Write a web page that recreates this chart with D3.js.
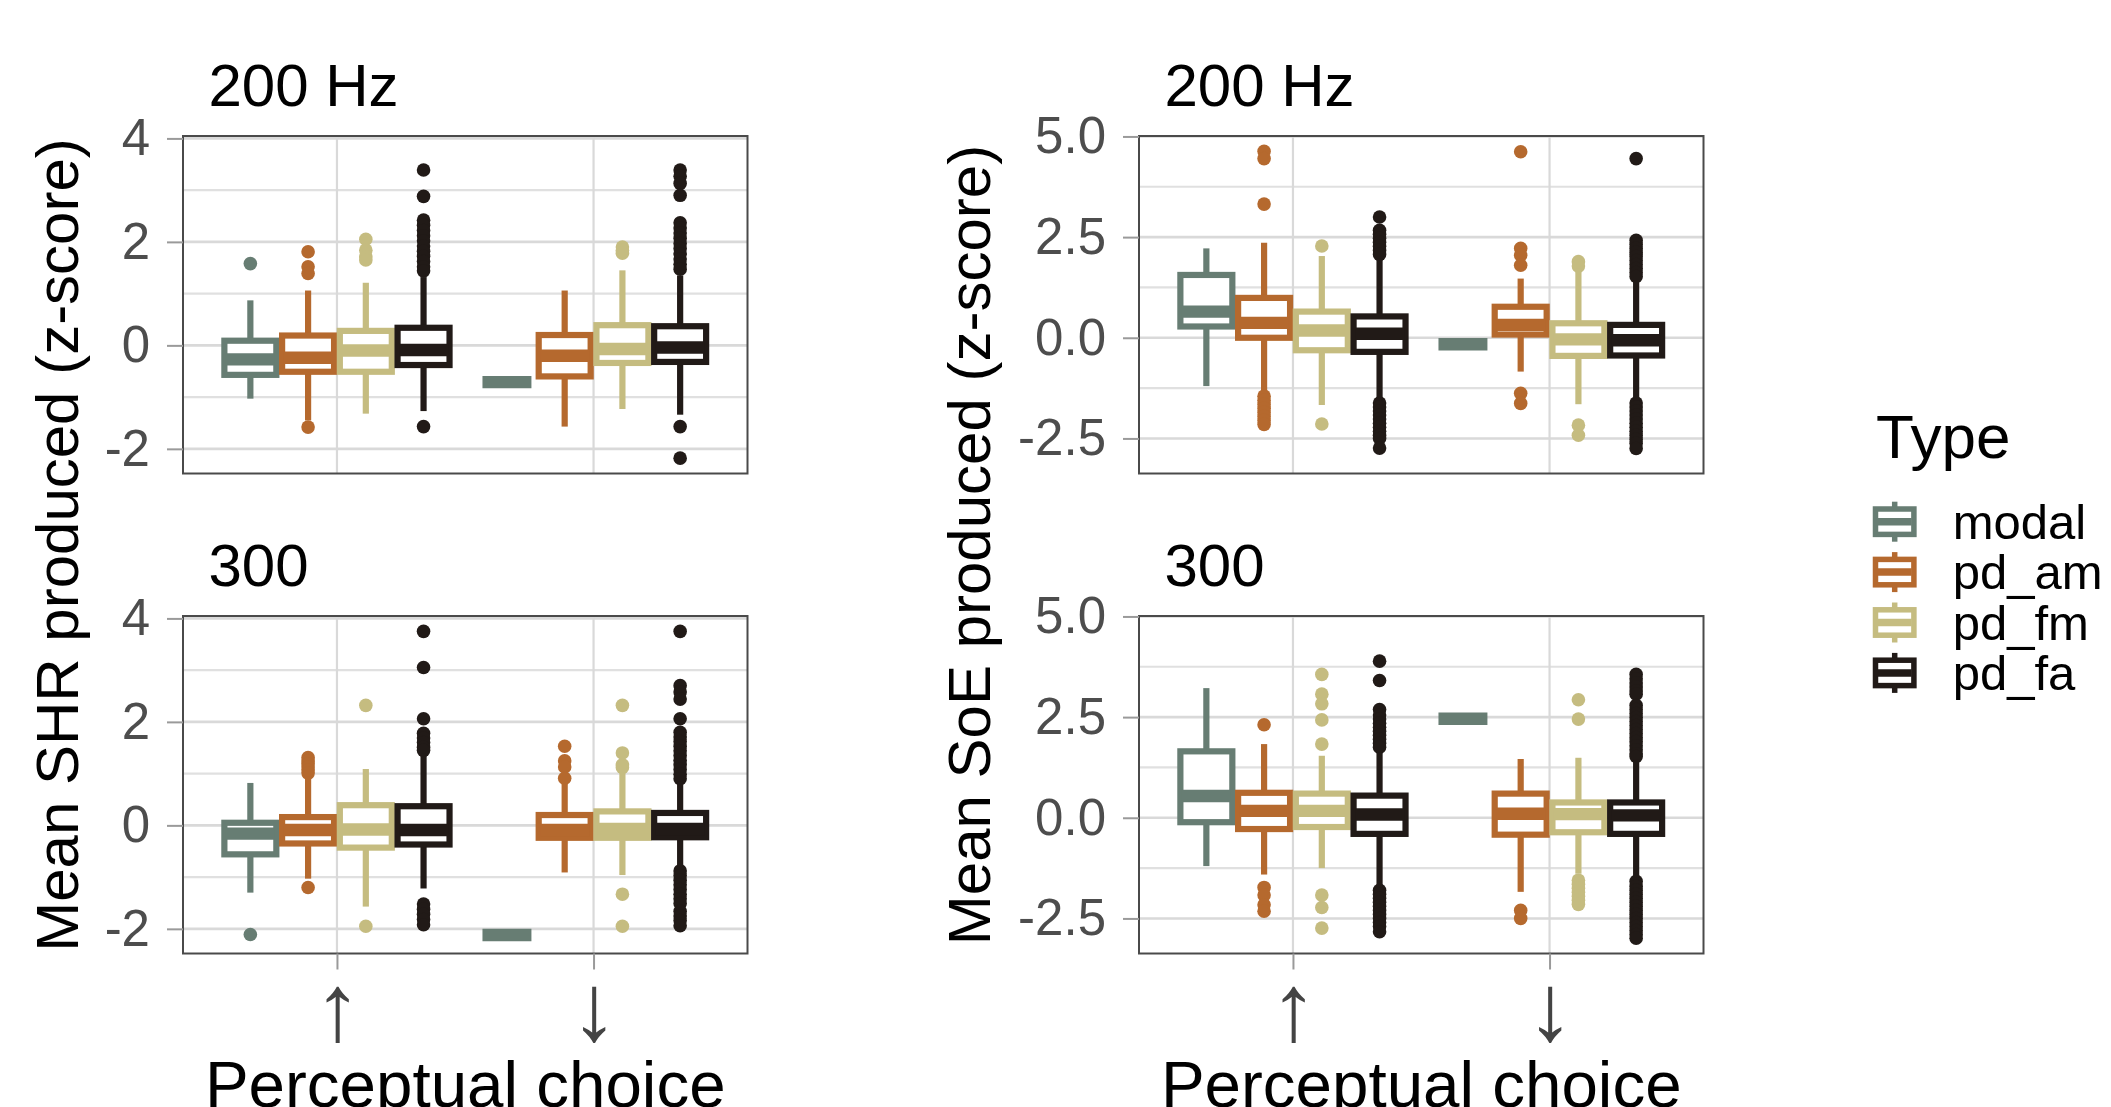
<!DOCTYPE html>
<html>
<head>
<meta charset="utf-8">
<script src="https://cdn.jsdelivr.net/npm/d3@7"></script>
<style>
  body { margin: 0; background: #fff; }
  svg { display: block; font-family: "Liberation Sans", Arial, sans-serif; }
</style>
</head>
<body>
<div id="vis"></div>
<script>
const width = 2111;
const height = 1107;

// categories
const types = ["modal", "pd_am", "pd_fm", "pd_fa"];
const typeColors = ["#677D73", "#B5692E", "#C5BC80", "#211A17"];
const choices = ["↑", "↓"];
const rowLabels = ["200 Hz", "300"];
const measureTitles = ["Mean SHR produced (z-score)", "Mean SoE produced (z-score)"];
const shrTicks = [-2, 0, 2, 4];
const soeTicks = [-2.5, 0, 2.5, 5];

// box stats: [choice, type, lower whisker, Q1, median, Q3, upper whisker]
const shr200Boxes = [
  ["↑", "modal", -1.03, -0.57, -0.27, 0.09, 0.87],
  ["↑", "pd_am", -1.45, -0.51, -0.24, 0.19, 1.06],
  ["↑", "pd_fm", -1.32, -0.51, -0.10, 0.28, 1.21],
  ["↑", "pd_fa", -1.27, -0.38, -0.09, 0.34, 1.32],
  ["↓", "modal", -0.71, -0.71, -0.71, -0.71, -0.71],
  ["↓", "pd_am", -1.57, -0.60, -0.20, 0.20, 1.06],
  ["↓", "pd_fm", -1.23, -0.34, -0.07, 0.39, 1.45],
  ["↓", "pd_fa", -1.34, -0.32, -0.04, 0.37, 1.35]
];
const shr200Outliers = [
  ["↑", "modal", [1.58]],
  ["↑", "pd_am", [1.81, 1.52, 1.39, -1.58]],
  ["↑", "pd_fm", [2.05, 1.84, 1.71, 1.65]],
  ["↑", "pd_fa", [3.39, 2.88, 2.42, 2.32, 2.22, 2.12, 2.02, 1.92, 1.82, 1.72, 1.62, 1.52, 1.44, -1.57]],
  ["↓", "pd_fm", [1.90, 1.84, 1.78]],
  ["↓", "pd_fa", [3.39, 3.27, 3.13, 2.90, 2.37, 2.27, 2.17, 2.07, 1.97, 1.87, 1.77, 1.67, 1.57, 1.47, -1.57, -2.18]]
];

const shr300Boxes = [
  ["↑", "modal", -1.30, -0.56, -0.16, 0.05, 0.82],
  ["↑", "pd_am", -1.03, -0.35, -0.09, 0.16, 0.95],
  ["↑", "pd_fm", -1.57, -0.43, -0.08, 0.39, 1.09],
  ["↑", "pd_fa", -1.22, -0.37, -0.09, 0.37, 1.38],
  ["↓", "modal", -2.12, -2.12, -2.12, -2.12, -2.12],
  ["↓", "pd_am", -0.91, -0.24, -0.09, 0.20, 0.80],
  ["↓", "pd_fm", -0.96, -0.24, -0.07, 0.27, 1.04],
  ["↓", "pd_fa", -0.80, -0.23, -0.07, 0.24, 0.84]
];
const shr300Outliers = [
  ["↑", "modal", [-2.11]],
  ["↑", "pd_am", [1.31, 1.25, 1.19, 1.13, 1.07, 1.01, -1.20]],
  ["↑", "pd_fm", [2.32, -1.95]],
  ["↑", "pd_fa", [3.75, 3.05, 2.06, 1.78, 1.69, 1.60, 1.51, 1.45, -1.52, -1.62, -1.72, -1.82, -1.92]],
  ["↓", "pd_am", [1.53, 1.25, 1.13, 0.91]],
  ["↓", "pd_fm", [2.32, 1.40, 1.17, 1.12, -1.33, -1.95]],
  ["↓", "pd_fa", [3.75, 2.70, 2.58, 2.44, 2.06, 1.80, 1.71, 1.62, 1.53, 1.44, 1.35, 1.26, 1.17, 1.08, 0.99, 0.90,
                  -0.88, -0.97, -1.06, -1.15, -1.24, -1.33, -1.42, -1.51, -1.66, -1.75, -1.84, -1.94]]
];

const soe200Boxes = [
  ["↑", "modal", -1.20, 0.28, 0.65, 1.56, 2.22],
  ["↑", "pd_am", -1.38, 0.00, 0.37, 0.99, 2.36],
  ["↑", "pd_fm", -1.67, -0.31, 0.18, 0.65, 2.03],
  ["↑", "pd_fa", -1.55, -0.35, 0.10, 0.53, 1.97],
  ["↓", "modal", -0.16, -0.16, -0.16, -0.16, -0.16],
  ["↓", "pd_am", -0.84, 0.08, 0.32, 0.77, 1.47],
  ["↓", "pd_fm", -1.65, -0.45, -0.04, 0.36, 1.72],
  ["↓", "pd_fa", -1.55, -0.44, -0.06, 0.32, 1.43]
];
const soe200Outliers = [
  ["↑", "pd_am", [4.63, 4.45, 3.32, -1.45, -1.55, -1.65, -1.75, -1.85, -1.95, -2.05, -2.15]],
  ["↑", "pd_fm", [2.28, -2.14]],
  ["↑", "pd_fa", [3.00, 2.67, 2.57, 2.47, 2.37, 2.27, 2.17, 2.07,
                  -1.62, -1.72, -1.82, -1.92, -2.02, -2.12, -2.22, -2.32, -2.42, -2.50, -2.74]],
  ["↓", "pd_am", [4.62, 2.22, 2.05, 1.80, -1.38, -1.63]],
  ["↓", "pd_fm", [1.89, 1.78, -2.17, -2.42]],
  ["↓", "pd_fa", [4.45, 2.42, 2.32, 2.22, 2.12, 2.02, 1.92, 1.82, 1.72, 1.62, 1.52,
                  -1.62, -1.72, -1.82, -1.92, -2.02, -2.12, -2.22, -2.32, -2.42, -2.52, -2.62, -2.75]]
];

const soe300Boxes = [
  ["↑", "modal", -1.20, -0.11, 0.54, 1.65, 3.22],
  ["↑", "pd_am", -1.41, -0.28, 0.17, 0.62, 1.83],
  ["↑", "pd_fm", -1.25, -0.23, 0.17, 0.60, 1.54],
  ["↑", "pd_fa", -1.73, -0.40, 0.08, 0.55, 1.63],
  ["↓", "modal", 2.46, 2.46, 2.46, 2.46, 2.46],
  ["↓", "pd_am", -1.84, -0.42, 0.10, 0.60, 1.46],
  ["↓", "pd_fm", -1.39, -0.36, 0.09, 0.38, 1.49],
  ["↓", "pd_fa", -1.49, -0.40, 0.06, 0.38, 1.44]
];
const soe300Outliers = [
  ["↑", "pd_am", [2.31, -1.73, -1.92, -2.16, -2.32]],
  ["↑", "pd_fm", [3.56, 3.07, 2.83, 2.43, 1.83, -1.92, -2.23, -2.74]],
  ["↑", "pd_fa", [3.89, 3.41, 2.69, 2.55, 2.45, 2.35, 2.25, 2.15, 2.05, 1.95, 1.85, 1.75,
                  -1.80, -1.90, -2.00, -2.10, -2.20, -2.30, -2.40, -2.50, -2.60, -2.70, -2.83]],
  ["↓", "pd_am", [-2.30, -2.50]],
  ["↓", "pd_fm", [2.93, 2.45, -1.55, -1.65, -1.75, -1.85, -1.95, -2.05, -2.15]],
  ["↓", "pd_fa", [3.56, 3.45, 3.35, 3.25, 3.15, 3.07, 2.79, 2.69, 2.59, 2.49, 2.39, 2.29, 2.19, 2.09, 1.99, 1.89, 1.79, 1.69, 1.59, 1.52,
                  -1.58, -1.70, -1.80, -1.90, -2.00, -2.10, -2.20, -2.30, -2.40, -2.50, -2.60, -2.70, -2.80, -2.90, -2.99]]
];

// layout
const colX = [183, 1139];
const rowY = [136, 616];
const panelW = 564.5;
const panelH = 337.5;
const lw = 6.2;          // box line width
const fontFam = '"Liberation Sans", Arial, sans-serif';

const color = d3.scaleOrdinal().domain(types).range(typeColors);

// panels built from the arrays above
const columns = [
  { title: measureTitles[0], ticks: shrTicks, fmt: d => String(d), panels: [[shr200Boxes, shr200Outliers], [shr300Boxes, shr300Outliers]] },
  { title: measureTitles[1], ticks: soeTicks, fmt: d => d.toFixed(1), panels: [[soe200Boxes, soe200Outliers], [soe300Boxes, soe300Outliers]] }
];

const svg = d3.select("#vis").append("svg")
  .attr("width", width)
  .attr("height", height);

svg.append("rect").attr("width", width).attr("height", height).attr("fill", "#fff");

columns.forEach((col, c) => {
  // shared y range for both rows of this measure (+5% like ggplot)
  const allVals = [];
  col.panels.forEach(([boxes, outs]) => {
    boxes.forEach(b => allVals.push(b[2], b[6]));
    outs.forEach(o => allVals.push(...o[2]));
  });
  const [lo, hi] = d3.extent(allVals);
  const pad = (hi - lo) * 0.05;

  const x = d3.scalePoint()
    .domain(choices)
    .range([colX[c], colX[c] + panelW])
    .padding(0.6);
  const step = x.step();
  const dodge = d3.scaleBand()
    .domain(types)
    .range([-0.45 * step, 0.45 * step])
    .paddingInner(0.1)
    .paddingOuter(0.05);
  const bw = dodge.bandwidth();

  col.panels.forEach(([boxes, outs], r) => {
    const y = d3.scaleLinear()
      .domain([lo - pad, hi + pad])
      .range([rowY[r] + panelH, rowY[r]]);

    const g = svg.append("g");
    const x0 = colX[c], x1 = colX[c] + panelW;

    // grid
    const minor = d3.pairs(col.ticks).map(([a, b]) => (a + b) / 2);
    g.selectAll(".minor").data(minor).join("line")
      .attr("x1", x0).attr("x2", x1)
      .attr("y1", d => y(d)).attr("y2", d => y(d))
      .attr("stroke", "#E0E0E0").attr("stroke-width", 2.2);
    g.selectAll(".major").data(col.ticks).join("line")
      .attr("x1", x0).attr("x2", x1)
      .attr("y1", d => y(d)).attr("y2", d => y(d))
      .attr("stroke", "#D9D9D9").attr("stroke-width", 2.6);
    g.selectAll(".vgrid").data(choices).join("line")
      .attr("x1", d => x(d)).attr("x2", d => x(d))
      .attr("y1", rowY[r]).attr("y2", rowY[r] + panelH)
      .attr("stroke", "#D9D9D9").attr("stroke-width", 2.2);

    // boxes
    boxes.forEach(b => {
      const [ch, type, wLo, q1, med, q3, wHi] = b;
      const cx = x(ch) + dodge(type) + bw / 2;
      const col_ = color(type);
      const bg = g.append("g");

      const o = outs.find(d => d[0] === ch && d[1] === type);
      if (o) {
        bg.selectAll("circle").data(o[2]).join("circle")
          .attr("cx", cx).attr("cy", d => y(d)).attr("r", 6.8)
          .attr("fill", col_);
      }
      if (q3 > q1) {
        bg.append("line")
          .attr("x1", cx).attr("x2", cx)
          .attr("y1", y(wHi)).attr("y2", y(q3))
          .attr("stroke", col_).attr("stroke-width", lw);
        bg.append("line")
          .attr("x1", cx).attr("x2", cx)
          .attr("y1", y(q1)).attr("y2", y(wLo))
          .attr("stroke", col_).attr("stroke-width", lw);
        bg.append("rect")
          .attr("x", cx - bw / 2).attr("width", bw)
          .attr("y", y(q3)).attr("height", y(q1) - y(q3))
          .attr("fill", "#fff")
          .attr("stroke", col_).attr("stroke-width", lw);
      }
      bg.append("line")
        .attr("x1", cx - bw / 2 + 1.5).attr("x2", cx + bw / 2 - 1.5)
        .attr("y1", y(med)).attr("y2", y(med))
        .attr("stroke", col_).attr("stroke-width", lw * 2);
    });

    // border
    g.append("rect")
      .attr("x", x0).attr("y", rowY[r])
      .attr("width", panelW).attr("height", panelH)
      .attr("fill", "none").attr("stroke", "#4a4a4a").attr("stroke-width", 2);

    // y axis
    const ya = g.append("g")
      .attr("transform", `translate(${x0},0)`)
      .call(d3.axisLeft(y).tickValues(col.ticks).tickFormat(col.fmt).tickSize(16).tickPadding(17));
    ya.select(".domain").remove();
    ya.selectAll(".tick line").attr("stroke", "#9a9a9a").attr("stroke-width", 2);
    ya.selectAll(".tick text")
      .attr("fill", "#4D4D4D")
      .style("font-size", "51px").style("font-family", fontFam);

    // x axis only under bottom row
    if (r === 1) {
      const xa = g.append("g")
        .attr("transform", `translate(0,${rowY[r] + panelH})`)
        .call(d3.axisBottom(x).tickSize(16).tickPadding(3));
      xa.select(".domain").remove();
      xa.selectAll(".tick line").attr("stroke", "#9a9a9a").attr("stroke-width", 2);
      xa.selectAll(".tick text")
        .attr("fill", "#444")
        .style("font-size", "95px").style("font-family", fontFam);

      svg.append("text")
        .attr("x", (x0 + x1) / 2).attr("y", 1107)
        .attr("text-anchor", "middle")
        .style("font-size", "65.5px")
        .text("Perceptual choice");
    }

    // strip label
    svg.append("text")
      .attr("x", x0 + 25.5).attr("y", rowY[r] - 30)
      .style("font-size", "60px")
      .text(rowLabels[r]);
  });

  // y title
  svg.append("text")
    .attr("transform", `translate(${c === 0 ? 78 : 990},545) rotate(-90)`)
    .attr("text-anchor", "middle")
    .style("font-size", "60px")
    .text(col.title);
});

// legend
const legend = svg.append("g");
legend.append("text")
  .attr("x", 1876).attr("y", 458)
  .style("font-size", "62px")
  .text("Type");

const key = legend.selectAll(".key").data(types).join("g")
  .attr("transform", (d, i) => `translate(1894.7,${521.7 + i * 50.4})`);
key.append("line")
  .attr("y1", -20).attr("y2", 20)
  .attr("stroke", d => color(d)).attr("stroke-width", 5.5);
key.append("rect")
  .attr("x", -19.2).attr("y", -12.7).attr("width", 38.4).attr("height", 25.4)
  .attr("fill", "#fff")
  .attr("stroke", d => color(d)).attr("stroke-width", 5.5);
key.append("line")
  .attr("x1", -17).attr("x2", 17)
  .attr("stroke", d => color(d)).attr("stroke-width", 7.5);
key.append("text")
  .attr("x", 58).attr("dy", "0.35em")
  .style("font-size", "49px")
  .text(d => d);
</script>
</body>
</html>
